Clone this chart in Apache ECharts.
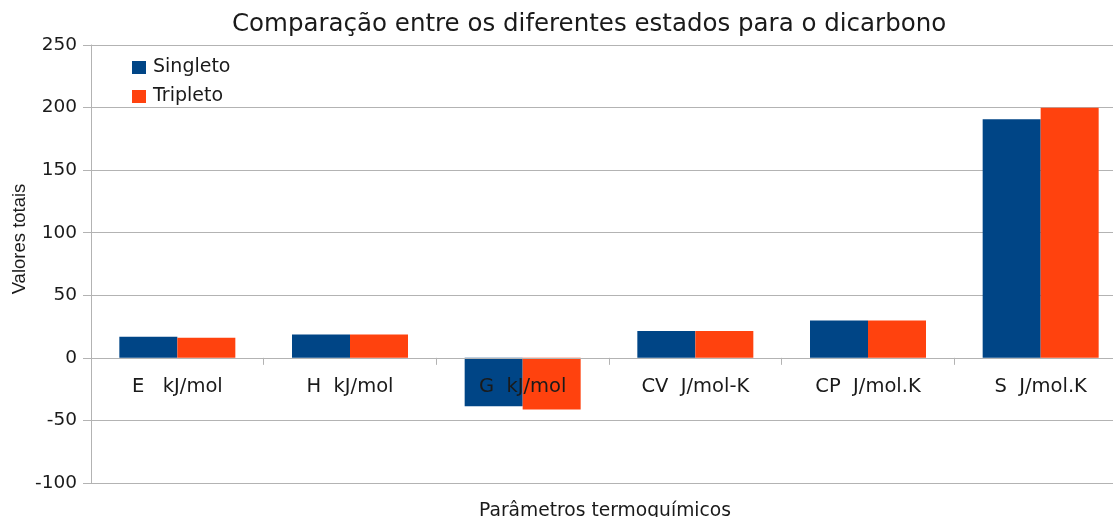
<!DOCTYPE html>
<html>
<head>
<meta charset="utf-8">
<script src="https://cdn.jsdelivr.net/npm/echarts@6/dist/echarts.min.js"></script>
<style>
html,body{margin:0;padding:0;background:#fff;overflow:hidden;width:1113px;height:517px;}
#c{width:1140px;height:517px;}
</style>
</head>
<body>
<div id="c"></div>
<script>
const categories = ['E   kJ/mol', 'H  kJ/mol', 'G  kJ/mol', 'CV  J/mol-K', 'CP  J/mol.K', 'S  J/mol.K'];
const singleto = [16.8, 18.7, -38.6, 21.4, 29.9, 190.7];
const tripleto = [16.0, 18.7, -41.3, 21.4, 29.9, 199.8];
const yTicks = { min: -100, max: 250, interval: 50 };
const titleText = 'Comparação entre os diferentes estados para o dicarbono';
const yName = 'Valores totais';
const xName = 'Parâmetros termoquímicos';

const FONT = '"DejaVu Sans", sans-serif';
const FONT2 = '"Liberation Sans", Arial, sans-serif';
const chart = echarts.init(document.getElementById('c'));
chart.setOption({
  animation: false,
  backgroundColor: '#ffffff',
  title: {
    text: titleText,
    left: 227, top: 7,
    textStyle: { fontFamily: FONT, fontSize: 24.5, fontWeight: 'normal', color: '#1a1a1a' }
  },
  legend: {
    orient: 'vertical',
    left: 127, top: 53,
    itemWidth: 14, itemHeight: 13, itemGap: 10,
    icon: 'rect',
    textStyle: { fontFamily: FONT, fontSize: 19, color: '#1a1a1a', padding: [0, 0, 0, 2] },
    data: ['Singleto', 'Tripleto']
  },
  graphic: [
    { type: 'text', x: 20, y: 239, rotation: Math.PI / 2,
      style: { text: yName, fontFamily: FONT2, fontSize: 18.5, fill: '#1a1a1a', textAlign: 'center', textVerticalAlign: 'middle' } },
    { type: 'text', x: 605, y: 511,
      style: { text: xName, fontFamily: FONT, fontSize: 18.7, fill: '#1a1a1a', textAlign: 'center', textVerticalAlign: 'middle' } }
  ],
  grid: { left: 91, top: 45, right: 13, height: 438, containLabel: false },
  xAxis: {
    type: 'category',
    data: categories,
    z: 10,
    axisLine: { onZero: true, lineStyle: { color: '#b3b3b3', width: 1 } },
    axisTick: { show: true, length: 7, lineStyle: { color: '#b3b3b3' } },
    axisLabel: { fontFamily: FONT, fontSize: 19.5, color: '#1a1a1a', margin: -106, interval: 0 },
    splitLine: { show: false }
  },
  yAxis: {
    type: 'value',
    min: yTicks.min, max: yTicks.max, interval: yTicks.interval,
    axisLine: { show: true, lineStyle: { color: '#b3b3b3' } },
    axisTick: { show: true, length: 8, lineStyle: { color: '#b3b3b3' } },
    axisLabel: { fontFamily: FONT, fontSize: 18.5, color: '#1a1a1a', margin: 14 },
    splitLine: { show: true, lineStyle: { color: '#b3b3b3', width: 1 } }
  },
  series: [
    { name: 'Singleto', type: 'bar', data: singleto, barWidth: 58, barGap: '0%', itemStyle: { color: '#004586' } },
    { name: 'Tripleto', type: 'bar', data: tripleto, barWidth: 58, barGap: '0%', itemStyle: { color: '#ff420e' } }
  ]
});
</script>
</body>
</html>
